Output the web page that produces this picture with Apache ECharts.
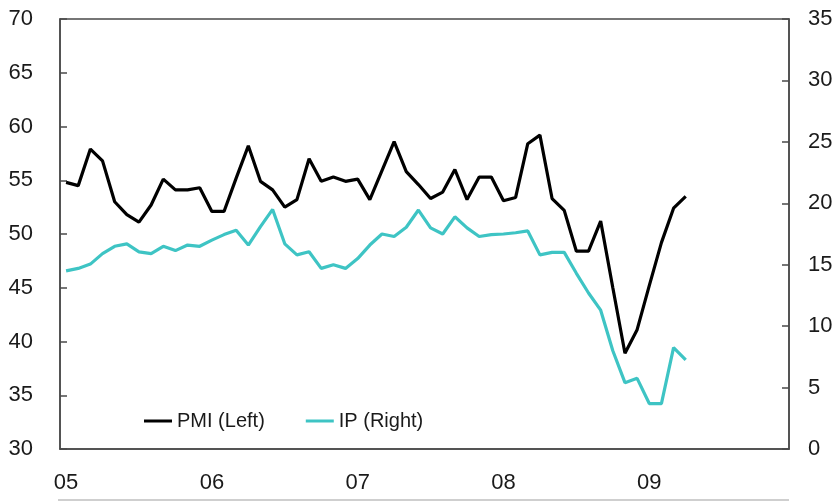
<!DOCTYPE html>
<html>
<head>
<meta charset="utf-8">
<script src="https://cdn.jsdelivr.net/npm/echarts@6/dist/echarts.min.js"></script>
<style>
html,body{margin:0;padding:0;background:#fff;}
#chart{width:840px;height:502px;}
</style>
</head>
<body>
<div id="chart"></div>
<script>
// Monthly categories Jan 2005 .. Dec 2009
var years = ['05', '06', '07', '08', '09'];
var months = [];
years.forEach(function (y) {
  for (var m = 1; m <= 12; m++) months.push(y + '-' + (m < 10 ? '0' + m : m));
});

// PMI (left axis), Jan 2005 .. Apr 2009
var pmi = [54.8, 54.5, 57.9, 56.8, 53.0, 51.8, 51.1, 52.7, 55.1, 54.1, 54.1, 54.3,
           52.1, 52.1, 55.2, 58.2, 54.9, 54.1, 52.5, 53.2, 57.0, 54.9, 55.3, 54.9,
           55.1, 53.2, 55.9, 58.6, 55.8, 54.6, 53.3, 53.9, 56.0, 53.2, 55.3, 55.3,
           53.1, 53.4, 58.4, 59.2, 53.3, 52.2, 48.4, 48.4, 51.2, 45.0, 38.9, 41.1,
           45.2, 49.2, 52.4, 53.5];

// IP (right axis), Jan 2005 .. Apr 2009
var ip = [14.5, 14.7, 15.05, 15.9, 16.5, 16.7, 16.05, 15.9, 16.5, 16.15, 16.6, 16.5,
          17.0, 17.45, 17.8, 16.6, 18.1, 19.5, 16.7, 15.8, 16.05, 14.7, 15.0, 14.7,
          15.5, 16.6, 17.5, 17.3, 18.05, 19.45, 18.0, 17.5, 18.9, 18.0, 17.3, 17.45,
          17.5, 17.6, 17.75, 15.8, 16.0, 16.0, 14.3, 12.7, 11.3, 8.0, 5.4, 5.75,
          3.7, 3.7, 8.25, 7.25];

var FONT = "'Liberation Sans', Arial, sans-serif";
var AXIS_COLOR = '#4a4a4a';
var TEXT_COLOR = '#1a1a1a';

var chart = echarts.init(document.getElementById('chart'), null, {renderer: 'canvas'});
chart.setOption({
  backgroundColor: '#fff',
  animation: false,
  grid: {
    left: 60, top: 19, right: 51, bottom: 53,
    show: true, borderColor: AXIS_COLOR, borderWidth: 1.5, backgroundColor: 'transparent'
  },
  legend: {
    left: 139, top: 406,
    itemWidth: 28, itemHeight: 3, itemGap: 41,
    icon: 'rect',
    textStyle: {fontFamily: FONT, fontSize: 20, color: TEXT_COLOR},
    data: ['PMI (Left)', 'IP (Right)']
  },
  xAxis: {
    type: 'category',
    data: months,
    boundaryGap: true,
    axisLine: {lineStyle: {color: AXIS_COLOR, width: 1.5}},
    axisTick: {inside: true, length: 7, interval: 5, lineStyle: {color: AXIS_COLOR, width: 1.5}},
    axisLabel: {
      interval: 11, margin: 23, fontFamily: FONT, fontSize: 22, color: TEXT_COLOR,
      formatter: function (v) { return v.slice(0, 2); }
    },
    splitLine: {show: false}
  },
  yAxis: [{
    type: 'value', min: 30, max: 70, interval: 5, position: 'left',
    axisLine: {show: true, lineStyle: {color: AXIS_COLOR, width: 1.5}},
    axisTick: {show: true, inside: true, length: 7, lineStyle: {color: AXIS_COLOR, width: 1.5}},
    axisLabel: {margin: 27, fontFamily: FONT, fontSize: 22, color: TEXT_COLOR},
    splitLine: {show: false}
  }, {
    type: 'value', min: 0, max: 35, interval: 5, position: 'right',
    axisLine: {show: true, lineStyle: {color: AXIS_COLOR, width: 1.5}},
    axisTick: {show: true, inside: true, length: 7, lineStyle: {color: AXIS_COLOR, width: 1.5}},
    axisLabel: {margin: 19, fontFamily: FONT, fontSize: 22, color: TEXT_COLOR},
    splitLine: {show: false}
  }],
  series: [{
    name: 'PMI (Left)', type: 'line', yAxisIndex: 0, data: pmi,
    symbol: 'none', color: '#000', lineStyle: {width: 3.2, color: '#000'}
  }, {
    name: 'IP (Right)', type: 'line', yAxisIndex: 1, data: ip,
    symbol: 'none', color: '#3ec4c4', lineStyle: {width: 3.2, color: '#3ec4c4'}
  }],
  graphic: [{
    type: 'line', shape: {x1: 58, y1: 500, x2: 789, y2: 500},
    style: {stroke: '#cfcfcf', lineWidth: 2}, silent: true
  }]
});
</script>
</body>
</html>
